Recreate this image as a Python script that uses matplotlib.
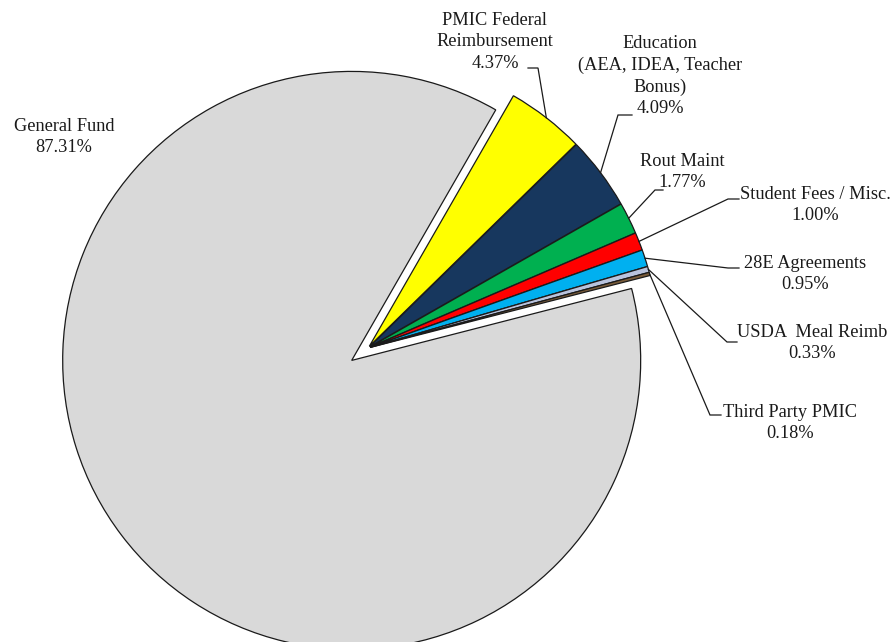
import numpy as np
import matplotlib
matplotlib.use("Agg")
import matplotlib.pyplot as plt

# Revenue sources and their shares (%), in clockwise order from the top slice
categories = [
    "PMIC Federal\nReimbursement",
    "Education\n(AEA, IDEA, Teacher\nBonus)",
    "Rout Maint",
    "Student Fees / Misc.",
    "28E Agreements",
    "USDA  Meal Reimb",
    "Third Party PMIC",
    "General Fund",
]
shares = [4.37, 4.09, 1.77, 1.00, 0.95, 0.33, 0.18, 87.31]
colors = ["#FFFF00", "#17375E", "#00B050", "#FF0000", "#00B0F0",
          "#B9C3DD", "#7A5C3A", "#D9D9D9"]

W, H = 895, 642
cx, cy, R = 368, 348, 289
start = 60.1

# Slice offsets in pixels: General Fund pulled out, the rest only slightly
explode = [2.2, 2.2, 2.2, 2.2, 2.2, 2.2, 2.2, 20.5]

# Label placement (block centre) and leader elbow for each slice
label_pos = [(495, 42), (660, 76), (682, 172), (815, 205), (805, 274),
             (812, 343), (790, 423), (64, 137)]
elbows = [(538, 68, 528), (618, 115, 632), (655, 190, 663), (728, 199, 739),
          (728, 268, 739), (727, 342, 737), (710, 415, 721), None]

fig = plt.figure(figsize=(W / 100, H / 100), dpi=100)
ax = fig.add_axes([0, 0, 1, 1])

wedges, _ = ax.pie(shares, colors=colors, explode=explode, startangle=start,
                   counterclock=False, radius=R, center=(cx, H - cy),
                   wedgeprops=dict(edgecolor="#1a1a1a", linewidth=0.9))
ax.set_xlim(0, W)
ax.set_ylim(0, H)
ax.set_aspect("equal")
ax.axis("off")

font = dict(family="Liberation Serif", size=13.2, color="#1a1a1a")

cum = np.cumsum([0] + shares)
for i, (name, val) in enumerate(zip(categories, shares)):
    lx, ly = label_pos[i]
    ax.text(lx, H - ly, f"{name}\n{val:.2f}%", ha="center", va="center",
            linespacing=1.35, **font)
    if elbows[i] is None:
        continue
    mid = np.deg2rad(start - (cum[i] + val / 2) / 100 * 360)
    ax_x = cx + (R + explode[i]) * np.cos(mid)
    ax_y = cy - (R + explode[i]) * np.sin(mid)
    ex, ey, tx = elbows[i]
    ax.plot([ax_x, ex, tx], [H - ax_y, H - ey, H - ey], color="#1a1a1a",
            lw=0.9, solid_joinstyle="miter")

fig.savefig("out.png", dpi=100, facecolor="white")
